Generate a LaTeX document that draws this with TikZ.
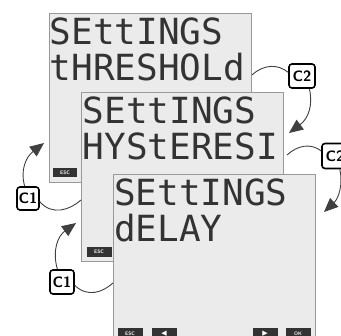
\documentclass[tikz,border=0pt]{standalone}
\usepackage{fontspec}
\newfontfamily\lcdfont{DejaVu Sans Mono}
\newfontfamily\symfont{DejaVu Sans}
\usetikzlibrary{arrows.meta}

\begin{document}
\begin{tikzpicture}[x=1pt,y=-1pt,
  screen/.style={rectangle,draw=black!40,fill=black!8,line width=1pt,minimum width=202pt,minimum height=169pt,inner sep=0pt},
  lcd/.style={anchor=base west,inner sep=0pt,text=black!80,font=\lcdfont\fontsize{36}{36}\selectfont},
  key/.style={rectangle,fill=black!80,text=white,inner sep=0pt,minimum width=25pt,minimum height=10pt,font=\sffamily\bfseries\fontsize{5}{5}\selectfont},
  badge/.style={rectangle,rounded corners=3pt,draw=black,line width=1.6pt,fill=white,minimum width=22pt,minimum height=23pt,inner sep=0pt,font=\sffamily\bfseries\fontsize{15}{15}\selectfont},
  link/.style={draw=black!75,line width=0.9pt},
  flow/.style={link,-{Triangle[length=14pt,width=12pt]}}]
  \useasboundingbox (0,0) rectangle (341,336);
  \clip (0,0) rectangle (341,336);

  % Screens
  \node[screen] (s1) at (150,98) {};
  \node[lcd] (s1a) at (49.5,45) {SEttINGS};
  \node[lcd] (s1b) at (49.5,81) {tHRESHOLd};
  \node[key,minimum width=24pt,minimum height=9pt] (esc1) at (65,172.5) {ESC};

  \node[screen] (s2) at (182.5,177.5) {};
  \node[lcd] (s2a) at (82.5,124) {SEttINGS};
  \node[lcd] (s2b) at (82.5,160) {HYStERESI};
  \node[key] (esc2) at (99,252) {ESC};

  \node[screen] (s3) at (214.5,259.5) {};
  \node[lcd] (s3a) at (114,206) {SEttINGS};
  \node[lcd] (s3b) at (114,242) {dELAY};
  \node[key,minimum height=12pt] (esc3) at (130,334) {ESC};
  \node[key,minimum height=12pt,font=\symfont\fontsize{7}{7}\selectfont] (left) at (164,334) {◀};
  \node[key,minimum height=12pt,font=\symfont\fontsize{7}{7}\selectfont] (right) at (265,334) {▶};
  \node[key,minimum height=12pt] (ok) at (298,334) {OK};

  % Keys
  \node[badge,minimum width=26pt,minimum height=24pt] (c2a) at (302,76) {C2};
  \node[badge,minimum width=26pt,minimum height=25pt] (c2b) at (335,156) {C2};
  \node[badge] (c1a) at (28,198.5) {C1};
  \node[badge,minimum width=24pt,minimum height=24pt] (c1b) at (62,282) {C1};

  % Ends on the screens
  \coordinate (e1) at (252,75);
  \coordinate (e2) at (287,155);
  \coordinate (e3) at (81,200);
  \coordinate (e4) at (113,283);
  \coordinate (t2a) at (289,133);
  \coordinate (t2b) at (324,212);
  \coordinate (t1a) at (44,143);
  \coordinate (t1b) at (76,223);

  % Forward with C2
  \draw[link] (e1) .. controls (264,64) and (278,64) .. (c2a.165);
  \draw[flow] (c2a.-60) .. controls (313,104) and (309,118) .. (t2a);
  \draw[link] (e2) .. controls (298,145) and (311,143) .. (c2b.160);
  \draw[flow] (c2b.-70) .. controls (343,184) and (339,198) .. (t2b);

  % Back with C1
  \draw[link] (c1a.-15) .. controls (52,216) and (70,210) .. (e3);
  \draw[flow] (c1a.105) .. controls (20,170) and (26,157) .. (t1a);
  \draw[link] (c1b.-15) .. controls (88,298) and (103,292) .. (e4);
  \draw[flow] (c1b.110) .. controls (52,250) and (58,236) .. (t1b);
\end{tikzpicture}
\end{document}
